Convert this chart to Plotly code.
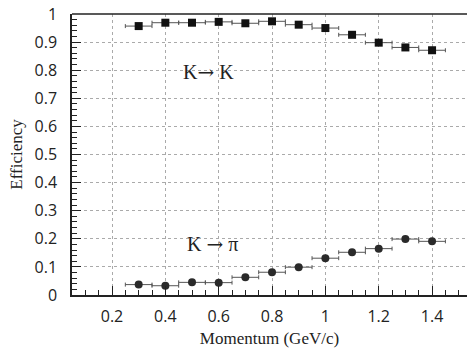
import plotly.graph_objects as go

momentum = [0.3, 0.4, 0.5, 0.6, 0.7, 0.8, 0.9, 1.0, 1.1, 1.2, 1.3, 1.4]
bin_half_width = [0.05] * 12
eff_k_to_k = [0.957, 0.969, 0.969, 0.972, 0.967, 0.974, 0.962, 0.950, 0.926, 0.898, 0.881, 0.871]
eff_k_to_pi = [0.037, 0.033, 0.045, 0.044, 0.063, 0.081, 0.099, 0.131, 0.152, 0.165, 0.199, 0.191]
x_ticks = [0.2, 0.4, 0.6, 0.8, 1.0, 1.2, 1.4]
x_ticklabels = ["0.2", "0.4", "0.6", "0.8", "1", "1.2", "1.4"]
y_ticks = [0, 0.1, 0.2, 0.3, 0.4, 0.5, 0.6, 0.7, 0.8, 0.9, 1.0]
y_ticklabels = ["0", "0.1", "0.2", "0.3", "0.4", "0.5", "0.6", "0.7", "0.8", "0.9", "1"]

fig = go.Figure()
fig.add_trace(go.Scatter(
    x=momentum, y=eff_k_to_k, mode="markers",
    marker=dict(symbol="square", size=8, color="#111111"),
    error_x=dict(type="data", array=bin_half_width, color="#555555", thickness=1, width=2),
    showlegend=False,
))
fig.add_trace(go.Scatter(
    x=momentum, y=eff_k_to_pi, mode="markers",
    marker=dict(symbol="circle", size=8, color="#2a2a2a"),
    error_x=dict(type="data", array=bin_half_width, color="#555555", thickness=1, width=2),
    showlegend=False,
))

tick_font = dict(family="Open Sans, Liberation Sans, sans-serif", size=16, color="#222222")
title_font = dict(family="Liberation Serif, Times New Roman, serif", size=17, color="#222222")

fig.update_xaxes(
    range=[0.05, 1.531], tickvals=x_ticks, ticktext=x_ticklabels,
    ticks="inside", ticklen=9, tickwidth=1.3, tickcolor="#222",
    minor=dict(dtick=0.05, tick0=0, ticks="inside", ticklen=5, tickcolor="#222", showgrid=False),
    showgrid=True, gridcolor="#aaaaaa", griddash="dot", gridwidth=1,
    showline=True, linecolor="#222", linewidth=1.5,
    zeroline=False, tickfont=tick_font, ticklabelstandoff=6,
    title=dict(text="Momentum (GeV/c)", font=title_font, standoff=6),
)
fig.update_yaxes(
    range=[0, 1], tickvals=y_ticks, ticktext=y_ticklabels,
    ticks="inside", ticklen=9, tickwidth=1.3, tickcolor="#222",
    minor=dict(dtick=0.02, tick0=0, ticks="inside", ticklen=5, tickcolor="#222", showgrid=False),
    showgrid=True, gridcolor="#aaaaaa", griddash="dot", gridwidth=1,
    showline=True, linecolor="#222", linewidth=1.5,
    zeroline=False, tickfont=tick_font, ticklabelstandoff=10,
    title=dict(text="Efficiency", font=title_font, standoff=8),
)

fig.add_shape(type="line", xref="paper", yref="paper", x0=0, x1=1, y0=1, y1=1,
              line=dict(color="#222", width=1.5))

arrow = "<span style='font-family:DejaVu Serif'>\u2192</span>"
fig.add_annotation(x=0.56, y=0.794, xref="x", yref="y", text="K" + arrow + "\u00a0K", showarrow=False,
                   xanchor="center", font=dict(family="Liberation Serif, serif", size=20, color="#222"))
fig.add_annotation(x=0.575, y=0.18, xref="x", yref="y", text="K\u00a0" + arrow + "\u00a0\u03c0", showarrow=False,
                   xanchor="center", font=dict(family="Liberation Serif, serif", size=20, color="#222"))

fig.update_layout(
    width=467, height=349,
    margin=dict(l=72, r=0, t=14, b=54),
    plot_bgcolor="white", paper_bgcolor="white",
)

fig.write_html("out.html")
